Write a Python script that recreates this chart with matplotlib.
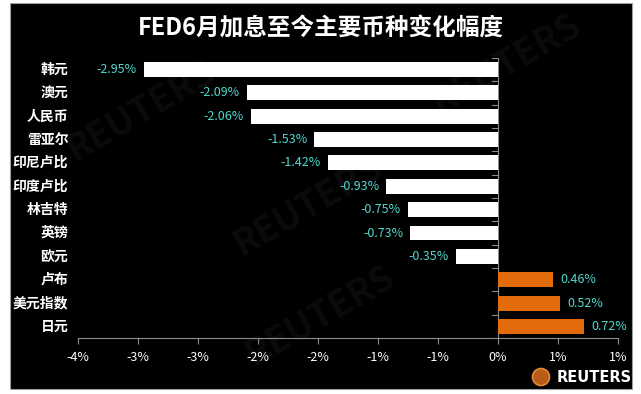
import numpy as np
import matplotlib.pyplot as plt
from matplotlib.patches import Rectangle, Ellipse

plt.rcParams['font.family'] = ['Noto Sans CJK SC', 'DejaVu Sans']

CURRENCIES = ["韩元", "澳元", "人民币", "雷亚尔", "印尼卢比", "印度卢比",
              "林吉特", "英镑", "欧元", "卢布", "美元指数", "日元"]
CHANGES = [-2.95, -2.09, -2.06, -1.53, -1.42, -0.93,
           -0.75, -0.73, -0.35, 0.46, 0.52, 0.72]
XTICKS = [-3.5, -3.0, -2.5, -2.0, -1.5, -1.0, -0.5, 0.0, 0.5, 1.0]
XTICK_LABELS = ["-4%", "-3%", "-3%", "-2%", "-2%", "-1%", "-1%", "0%", "1%", "1%"]
TITLE = "FED6月加息至今主要币种变化幅度"

NEG_COLOR = "#FFFFFF"
POS_COLOR = "#E36C0A"
LABEL_COLOR = "#4FD8CF"
AXIS_COLOR = "#8C8C8C"


def main():
    fig = plt.figure(figsize=(6.41, 3.94), dpi=100, facecolor="white")

    # black panel with thin grey frame
    fig.patches.append(Rectangle((0.0156, 0.0127), 0.970, 0.980,
                                 transform=fig.transFigure, facecolor="black",
                                 edgecolor="#A0A0A0", linewidth=0.8, zorder=-2))

    # faint watermarks
    for (wx, wy) in [(0.22, 0.72), (0.48, 0.48), (0.79, 0.84), (0.50, 0.20)]:
        fig.text(wx, wy, "REUTERS", ha="center", va="center", color="#0b0b0b",
                 fontsize=26, fontweight="bold", rotation=30, zorder=-1)

    ax = fig.add_axes([0.1217, 0.142, 0.8423, 0.711])
    ax.set_facecolor("none")

    y = np.arange(len(CURRENCIES))
    colors = [NEG_COLOR if v < 0 else POS_COLOR for v in CHANGES]
    ax.barh(y, CHANGES, height=0.64, color=colors, zorder=3)

    for yi, v in zip(y, CHANGES):
        if v < 0:
            ax.text(v - 0.06, yi, f"{v:.2f}%", ha="right", va="center",
                    color=LABEL_COLOR, fontsize=9, zorder=4)
        else:
            ax.text(v + 0.06, yi, f"{v:.2f}%", ha="left", va="center",
                    color=LABEL_COLOR, fontsize=9, zorder=4)

    ax.set_xlim(-3.5, 1.0)
    ax.set_ylim(len(CURRENCIES) - 0.5, -0.5)
    ax.set_xticks(XTICKS)
    ax.set_xticklabels(XTICK_LABELS, color="white", fontsize=9)
    ax.tick_params(axis="x", colors=AXIS_COLOR, labelcolor="white",
                   length=4, width=0.8, pad=5)

    # category labels sit at the far left; the axis line itself is at zero
    ax.set_yticks([])
    for yi, name in zip(y, CURRENCIES):
        ax.text(-0.018, yi, name, transform=ax.get_yaxis_transform(),
                ha="right", va="center", color="white", fontsize=10,
                fontweight="bold")
    ax.axvline(0, color=AXIS_COLOR, linewidth=0.8, zorder=2)
    for b in np.arange(-0.5, len(CURRENCIES), 1.0):
        ax.plot([-0.05, 0], [b, b], color=AXIS_COLOR, linewidth=0.8, zorder=2)

    for side in ["top", "right", "left"]:
        ax.spines[side].set_visible(False)
    ax.spines["bottom"].set_color(AXIS_COLOR)
    ax.spines["bottom"].set_linewidth(0.8)

    fig.text(0.5, 0.928, TITLE, ha="center", va="center", color="white",
             fontsize=17, fontweight="bold")

    # logo bottom right
    fig.patches.append(Ellipse((541 / 641, 1 - 377 / 394), 17 / 641, 17 / 394,
                               transform=fig.transFigure, facecolor="#B85A18",
                               edgecolor="#E08A3A", linewidth=1.2, zorder=5))
    fig.text(594 / 641, 1 - 377 / 394, "REUTERS", ha="center", va="center",
             color="white", fontsize=10.5, fontweight="bold",
             family="DejaVu Sans")

    fig.savefig("out.png", dpi=100, facecolor=fig.get_facecolor())
    plt.close(fig)


if __name__ == "__main__":
    main()
